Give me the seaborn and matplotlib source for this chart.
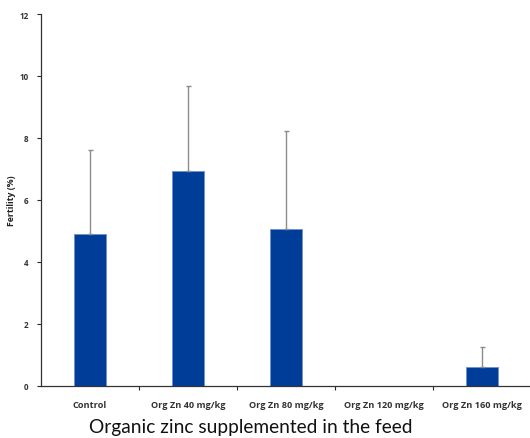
import numpy as np
import pandas as pd
import matplotlib
matplotlib.use("Agg")
import matplotlib.pyplot as plt
import seaborn as sns

# Fertility (%) by organic zinc level in the feed
groups = ["Control", "Org Zn 40 mg/kg", "Org Zn 80 mg/kg", "Org Zn 120 mg/kg", "Org Zn 160 mg/kg"]
fertility = [4.90, 6.94, 5.06, 0.0, 0.61]
sd = [2.71, 2.74, 3.17, 0.0, 0.65]

df = pd.DataFrame({"Grupo": groups, "Fertility": fertility, "SD": sd})

sns.set_style("white")
plt.rcParams["font.family"] = ["Open Sans", "DejaVu Sans"]

fig = plt.figure(figsize=(5.30, 4.39), dpi=100)
ax = fig.add_axes([41 / 530, 52 / 439, 490 / 530, 372 / 439])

sns.barplot(data=df, x="Grupo", y="Fertility", color="#003d99", width=0.32,
            errorbar=None, edgecolor="#6f8fd0", linewidth=0.6, saturation=1, ax=ax)
# barra en cero: sin borde visible
for p, v in zip(ax.patches, fertility):
    if v == 0:
        p.set_visible(False)

# solo la barra de error superior (se omiten los grupos sin valor)
err = df[df["Fertility"] > 0]
ax.errorbar(err.index.to_numpy(), err["Fertility"], yerr=[np.zeros(len(err)), err["SD"]],
            fmt="none", ecolor="#8c8c8c", elinewidth=1.0, capsize=1.8, capthick=1.0)

ax.set_xlim(-0.5, 4.5)
ax.set_ylim(0, 12)
ax.set_yticks(range(0, 13, 2))
ax.tick_params(axis="y", labelsize=5.8, length=3, width=0.8, direction="out", left=True, pad=6)
for t in ax.get_yticklabels():
    t.set_fontweight("bold")
    t.set_color("#333333")

# etiquetas en el centro, ticks en los bordes
ax.set_xticks(range(len(groups)))
ax.set_xticklabels(groups, fontsize=6.6, fontweight="bold", color="#333333")
ax.tick_params(axis="x", which="major", length=0, pad=10)
ax.set_xticks(np.arange(0.5, 4.5, 1), minor=True)
ax.tick_params(axis="x", which="minor", length=3, width=0.8, direction="out", bottom=True)

ax.set_ylabel("Fertility (%)", fontsize=6.3, fontweight="bold", color="#222222")
ax.yaxis.set_label_coords(-0.05, 0.5)
ax.set_xlabel("Organic zinc supplemented in the feed", fontsize=13.8, color="#111111",
              family=["Lato", "DejaVu Sans"])
ax.xaxis.set_label_coords((251 - 41) / 490, -0.086)

for s in ["top", "right"]:
    ax.spines[s].set_visible(False)
for s in ["left", "bottom"]:
    ax.spines[s].set_color("#333333")
    ax.spines[s].set_linewidth(0.9)

fig.savefig("out.png", dpi=100)
